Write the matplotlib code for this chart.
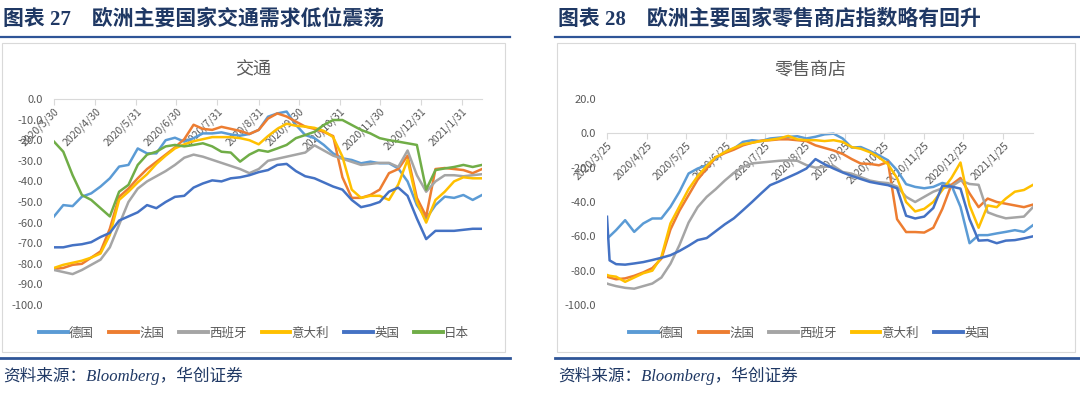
import numpy as np
import matplotlib
matplotlib.use('Agg')
import matplotlib.pyplot as plt
from matplotlib.lines import Line2D
from matplotlib.patches import Rectangle
from matplotlib.ticker import FuncFormatter

plt.rcParams['font.family'] = ['Noto Sans CJK SC', 'DejaVu Sans']
plt.rcParams['axes.unicode_minus'] = False

#%% data (weekly samples)
names = ['德国', '法国', '西班牙', '意大利', '英国', '日本']
colors = ['#5B9BD5', '#ED7D31', '#A5A5A5', '#FFC000', '#4472C4', '#70AD47']

# chart 27: traffic, days after 2020-03-30
traffic_start = '2020-03-30'
traffic_days = list(range(0, 323, 7))
traffic_de = [-57, -51.5, -52, -47.4, -45.8, -42.5, -38.5, -32.8, -32, -24,
              -26.4, -26.4, -20, -18.8, -20.7, -19, -16.7, -16.7, -16.2, -17.2,
              -17.8, -17, -15, -8.6, -7, -6.1, -12.6, -17.5, -19, -22.3,
              -26.4, -28.8, -29.6, -31.2, -30.4, -31.2, -31.2, -33.7, -40, -51.5,
              -58, -51.5, -47.4, -48, -46.6, -49, -46.6]
traffic_fr = [-82.5, -82, -80.5, -80, -77, -74, -63, -47.5, -43.5, -38.5,
              -34, -30.5, -27, -23.5, -19.5, -12.5, -14.5, -15, -13.5, -14.5,
              -15.5, -17, -15, -9.5, -7, -8.5, -11, -13.4, -14.5, -16,
              -18, -38, -48, -48, -46.6, -44, -36, -34, -27.5, -48,
              -57, -34, -33.5, -34, -34.5, -36, -34]
traffic_es = [-83, -84, -85, -83, -80.5, -78, -72, -61, -50, -43.5,
              -40, -37.5, -35, -32, -28.5, -27, -28, -29.5, -31, -32.5,
              -34, -36, -34, -30, -29, -28, -27, -26, -22.5, -25,
              -27.5, -29, -30.5, -32, -31.5, -31, -31, -33, -25, -37,
              -45, -40, -37, -37, -37.5, -37, -36.5]
traffic_it = [-82, -80.5, -79.5, -78.5, -77, -75, -66, -49, -45, -40.5,
              -36.5, -31.5, -27.5, -24, -22, -20.5, -19.5, -18.5, -18.5, -18.5,
              -19, -20, -22, -18, -14.5, -12, -13, -13.4, -14, -15.5,
              -18.5, -28, -44, -48, -47, -47, -49, -41.5, -29.5, -50,
              -60, -49, -45, -40, -38, -38.5, -38.5]
traffic_uk = [-72, -72, -71, -70.5, -69.5, -67, -65, -59, -57, -55,
              -51.5, -53, -50, -47.5, -47, -43, -41, -39.5, -40, -38.5,
              -38, -37, -35.5, -34.5, -32, -31.5, -35, -37.5, -38.5, -40.5,
              -42.5, -44, -49, -52.5, -51.5, -50, -45, -43, -47, -58,
              -68, -64, -64, -64, -63.5, -63, -63]
traffic_jp = [-20.7, -25.6, -37, -46.6, -49, -53, -57, -45, -41.7, -32,
              -27, -25.6, -23, -22.3, -23, -22.3, -21.5, -23, -25.6, -26,
              -30.4, -27, -24.8, -25.6, -24, -22.3, -19, -17.5, -15.9, -12.6,
              -10.2, -10.2, -12.6, -15, -16.7, -19, -20, -20.7, -21.5, -22.3,
              -44, -34.5, -33.7, -33, -32, -33, -32]
traffic_ticks = ['2020-03-30', '2020-04-30', '2020-05-31', '2020-06-30', '2020-07-31', '2020-08-31',
                 '2020-09-30', '2020-10-31', '2020-11-30', '2020-12-31', '2021-01-31']
traffic_labels = ['2020/3/30', '2020/4/30', '2020/5/31', '2020/6/30', '2020/7/31', '2020/8/31',
                  '2020/9/30', '2020/10/31', '2020/11/30', '2020/12/31', '2021/1/31']

# chart 28: retail, days after 2020-03-25
retail_start = '2020-03-25'
retail_days = [0, 2] + list(range(7, 323, 7)) + [329]
retail_de = [-61, -60, -56.4, -50.6, -57.4, -52.5, -49.6, -49.6, -42.8, -34,
             -23.4, -20.5, -18.6, -14.7, -10.9, -8.9, -5, -4, -4.5, -3,
             -2.5, -2.1, -1.7, -3, -2, -0.6, -0.2, -3, -8.3, -8,
             -10.3, -12.8, -15.7, -21.5, -29.6, -31.2, -32, -31.2, -28.9, -30.2,
             -42.8, -64, -59.3, -59.3, -58.3, -57.4, -56.4, -57.4, -53.5]
retail_fr = [-83.5, -84, -85, -84.5, -83, -81, -78.5, -73, -56, -45,
             -36, -27, -20.5, -14, -11.5, -9.5, -7, -5.5, -4.3, -4,
             -3.5, -3.5, -4, -4.5, -7, -8.5, -10, -12, -15, -17.6,
             -17.8, -18.6, -16.7, -50, -57.5, -57.5, -57.8, -55, -44, -30,
             -26, -35, -43, -38, -40, -41, -42, -43, -41.5]
retail_es = [-87.5, -88, -89, -90, -90.5, -89, -87.5, -84, -76, -65,
             -52, -43, -37, -32.5, -27.5, -23, -19.6, -17.5, -17, -16.5,
             -16, -15.7, -16, -18.5, -20, -19.5, -19, -22.5, -23.5, -25.5,
             -27.5, -28.5, -29, -31, -37, -40, -37, -34, -32, -31,
             -27.5, -29.5, -30, -46, -48, -49.5, -49, -48.5, -43]
retail_it = [-82.5, -83, -83.5, -86.5, -84, -81.5, -80, -72, -52.5, -42.5,
             -32.5, -25, -19, -14, -10.9, -8.5, -6.3, -5.5, -4.5, -3.8,
             -3, -1.5, -3.5, -4, -4, -4.5, -4, -5, -8, -9,
             -11, -14, -18, -26, -40, -45.5, -44, -40, -33, -26,
             -17, -42, -55, -42, -43, -38, -34, -33, -30]
retail_uk = [-48.6, -74, -76.2, -76.5, -75.8, -75, -73.8, -72.5, -71, -68.5,
             -65.5, -62.2, -61, -57, -53, -49.5, -44.8, -40, -35, -30.2,
             -28, -25.6, -23.2, -20.5, -15, -18, -20.5, -22.8, -24.8, -26.6,
             -28.3, -29.3, -30.2, -32, -48, -49.6, -48.5, -43.5, -30.5, -31,
             -32.2, -50, -62.5, -62.2, -64, -62.5, -62.2, -61.2, -60]
retail_ticks = ['2020-03-25', '2020-04-25', '2020-05-25', '2020-06-25', '2020-07-25', '2020-08-25',
                '2020-09-25', '2020-10-25', '2020-11-25', '2020-12-25', '2021-01-25']
retail_labels = ['2020/3/25', '2020/4/25', '2020/5/25', '2020/6/25', '2020/7/25', '2020/8/25',
                 '2020/9/25', '2020/10/25', '2020/11/25', '2020/12/25', '2021/1/25']

#%% layout helpers (pixel positions of the 1080x395 picture)
W, H = 1080, 395
def fx(px):
    return px / W
def fy(py):
    return 1 - py / H

navy = '#1F3864'
blue = '#2F5597'
grey_txt = '#595959'
head_font = ['Liberation Serif', 'Noto Sans CJK SC']

fig = plt.figure(figsize=(10.8, 3.95), dpi=100)


def panel(x0, x1, heading, title, tcx):
    fig.text(fx(x0 + 3), fy(19), heading, fontsize=15, weight='bold', color=navy,
             va='center', family=head_font)
    fig.add_artist(Line2D([fx(x0), fx(x1)], [fy(36.5), fy(36.5)], color=blue, lw=1.6))
    fig.add_artist(Rectangle((fx(x0 + 2), fy(352)), (x1 - x0 - 7) / W, (352 - 43) / H,
                             fill=False, ec='#D9D9D9', lw=0.8))
    fig.add_artist(Line2D([fx(x0), fx(x1)], [fy(358), fy(358)], color=blue, lw=2))
    fig.text(fx(x0 + 3), fy(376), '资料来源：Bloomberg，华创证券', fontsize=12, style='italic',
             color=navy, va='center', family=head_font)
    fig.text(fx(tcx), fy(69), title, fontsize=13, color=grey_txt, ha='center', va='center')


def chart(ax, start, days, series, ticks, labels, ylo, yhi, ystep):
    start = np.datetime64(start)
    dates = start + np.array(days)
    for s, c in series:
        ax.plot(dates, s, color=c, lw=1.8, solid_joinstyle='round')
    ax.set_xlim(dates[0], dates[-1])
    ax.set_ylim(ylo, yhi)
    for sp in ['top', 'left', 'right']:
        ax.spines[sp].set_visible(False)
    ax.spines['bottom'].set_position(('data', 0))
    ax.spines['bottom'].set_color('#D9D9D9')
    ax.set_yticks(np.arange(ylo, yhi + 1, ystep))
    ax.yaxis.set_major_formatter(FuncFormatter(lambda v, p: '%.1f' % v))
    ax.set_xticks(np.array(ticks, dtype='datetime64[D]'))
    ax.set_xticklabels(labels)
    ax.tick_params(axis='y', length=0, labelsize=8, labelcolor=grey_txt, pad=8)
    ax.tick_params(axis='x', direction='out', length=4, color='#D9D9D9', labelsize=7.5,
                   labelcolor=grey_txt, pad=1)
    for lab in ax.get_xticklabels():
        lab.set_rotation(45)
        lab.set_ha('right')
        lab.set_va('top')
        lab.set_rotation_mode('anchor')
    ax.set_axisbelow(True)
    ax.patch.set_visible(False)


panel(0, 510, '图表 27    欧洲主要国家交通需求低位震荡', '交通', 253)
panel(555, 1080, '图表 28    欧洲主要国家零售商店指数略有回升', '零售商店', 810)

ax1 = fig.add_axes([fx(54), fy(305), (482 - 54) / W, (305 - 99) / H])
chart(ax1, traffic_start, traffic_days,
      zip([traffic_de, traffic_fr, traffic_es, traffic_it, traffic_uk, traffic_jp], colors),
      traffic_ticks, traffic_labels, -100, 0, 10)

ax2 = fig.add_axes([fx(607), fy(305), (1033 - 607) / W, (305 - 99) / H])
chart(ax2, retail_start, retail_days,
      zip([retail_de, retail_fr, retail_es, retail_it, retail_uk], colors[:5]),
      retail_ticks, retail_labels, -100, 20, 20)

# legends
h = [Line2D([], [], color=c, lw=2.8) for c in colors]
fig.legend(h, names, loc='center', bbox_to_anchor=(fx(254), fy(333)), ncol=6, frameon=False,
           fontsize=9, handlelength=2.3, handletextpad=0.1, columnspacing=1.2, labelcolor=grey_txt)
fig.legend(h[:5], names[:5], loc='center', bbox_to_anchor=(fx(809), fy(333)), ncol=5, frameon=False,
           fontsize=9, handlelength=2.3, handletextpad=0.1, columnspacing=1.2, labelcolor=grey_txt)

fig.savefig('out.png', dpi=100)
